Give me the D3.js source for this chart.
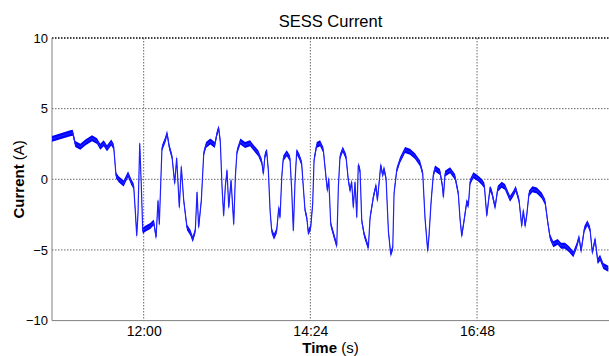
<!DOCTYPE html>
<html><head><meta charset="utf-8">
<script src="https://cdn.jsdelivr.net/npm/d3@7"></script>
<style>body{margin:0;background:#fff;} svg{display:block;font-family:"Liberation Sans",Arial,sans-serif;}</style>
</head><body>
<svg id="c" width="609" height="356"></svg>
<script>
// time in minutes since midnight, current in A
const timeMin = [
640.8,656.6,658.7,660.9,665.3,669.6,675.4,679.7,682.5,685.5,688.3,692.0,694.1,696.1,698.4,702.7,706.5,709.3,711.4,712.8,
714.0,715.1,716.6,718.0,719.2,721.4,725.7,728.7,730.7,732.4,733.5,735.8,738.7,740.2,742.1,744.5,746.8,748.5,750.8,752.5,
754.6,757.4,760.3,762.4,764.6,766.1,767.5,769.8,771.9,773.9,777.6,781.4,783.4,784.8,786.2,787.7,789.1,790.5,792.0,793.5,
795.5,797.8,799.2,800.6,803.5,
807.6,811.9,814.7,819.0,822.0,823.4,824.8,826.3,827.7,829.2,
830.6,832.6,834.9,836.7,837.8,839.3,840.6,843.6,846.4,847.9,
849.3,850.8,852.2,854.5,856.5,857.9,859.4,860.9,862.2,864.3,
866.0,867.2,869.5,872.4,875.2,877.5,878.7,879.9,881.6,884.4,
886.8,888.2,889.6,892.0,894.8,896.8,898.3,899.7,901.1,902.6,
904.1,905.4,906.9,908.4,910.4,912.7,914.1,915.6,917.0,918.4,
920.7,921.9,923.6,924.8,926.5,927.6,929.4,931.4,933.4,935.2,
936.3,938.6,941.5,945.8,950.1,954.4,958.8,961.1,
963.1,965.4,966.5,968.3,970.2,971.7,976.0,978.0,978.9,980.4,
984.7,989.0,991.8,993.3,994.8,997.0,999.1,1000.5,1002.0,1004.8,
1009.1,1012.1,1014.3,1016.4,1017.8,1019.2,1020.7,1023.6,1025.9,1029.3,
1032.2,1036.5,1039.4,1041.4,1044.3,1046.6,1048.0,1049.5,1050.9,1052.9,
1055.8,1059.6,1063.9,1066.8,1069.1,1071.1,1073.9,1077.7,1080.6,1084.0,
1087.5,1091.2,1094.1,1096.1,1097.9,1100.7,1103.3,1105.6,1107.6,1110.0,
1112.3,1114.3,1117.1,1121.4
];
const currentA = [
2.86,3.26,3.3,2.5,2.3,2.6,2.9,2.7,2.3,2.55,2.2,2.6,2.3,0.29,0,-0.3,0.36,-0.19,-0.5,-2.3,
-4.0,-2.4,2.55,-0.55,-3.64,-3.5,-3.3,-3.05,-4.1,-1.5,-3.2,2.2,2.8,3.26,2.3,1.6,-0.3,1.5,-2.0,0.9,
-1.5,-3.4,-3.76,-4.24,-3.64,-0.9,-3.4,-1.5,1.84,2.43,2.67,2.43,3.26,3.62,2.67,-0.55,-2.57,-0.55,0.64,-2.0,
-0.07,-3.2,0.16,1.95,2.67,
2.43,2.55,2.26,1.84,1.24,0.4,1.7,1.95,0.64,-2.2,
-3.64,-4.07,-3.64,-2.0,-2.7,0.16,1.48,1.84,1.48,-0.79,
-3.64,-0.07,1.95,1.6,1.12,-0.55,-2.2,-2.7,-3.76,-3.4,
-1.74,1.36,2.43,2.55,2.07,0.16,-0.79,0.05,-3.17,-4.0,
-4.7,-0.55,1.6,2.12,1.6,-0.07,-0.79,-0.19,-2.0,-0.19,
-2.7,1.0,0.64,-2.93,-3.88,-4.48,-4.84,-2.7,-2.0,-1.26,
-0.43,-1.5,-0.07,1.0,0.29,0.76,0.05,-3.64,-5.3,-4.84,
-1.0,0.64,1.36,2.07,1.95,1.64,1.12,0.4,
-2.8,-5.07,-4.0,-1.6,0.29,0.76,0.52,-0.43,-1.26,0.4,
0.64,0.16,-1.0,-2.8,-4.0,-2.8,-1.6,-1.86,-0.19,0.29,
0.05,-0.19,-0.43,-2.57,-1.6,-0.67,-0.9,-1.98,-0.67,-0.38,
-0.55,-1.38,-1.0,-0.67,-1.5,-3.3,-2.2,-3.3,-2.57,-1.0,
-0.71,-0.79,-1.14,-1.6,-3.05,-4.1,-4.6,-4.43,-4.7,-4.7,
-4.95,-5.3,-4.7,-4.1,-5.07,-3.52,-3.1,-3.52,-5.19,-4.24,
-5.8,-5.55,-6.14,-6.33
];
const xTicks = [720, 864, 1008];          // 12:00, 14:24, 16:48
const yTicks = [-10, -5, 0, 5, 10];
const xDomain = [640.8, 1122.0];
const yDomain = [-10, 10];
const titleText = "SESS Current";

const data = timeMin.map((t, i) => ({t, v: currentA[i]}));
const svg = d3.select("#c");
const L = 52, R = 609, T = 38, B = 320.6;
const x = d3.scaleLinear().domain(xDomain).range([L, R]);
const y = d3.scaleLinear().domain(yDomain).range([B, T]);
const fmt = m => { const h = Math.floor(m / 60), mm = Math.round(m - h * 60); return h + ":" + String(mm).padStart(2, "0"); };

// grid
const g = svg.append("g");
g.selectAll("line.gy").data(yTicks.filter(d => d > -10)).join("line")
  .attr("x1", L).attr("x2", R).attr("y1", d => y(d)).attr("y2", d => y(d))
  .attr("stroke", d => d === 10 ? "#000" : "#444").attr("stroke-width", d => d === 10 ? 1.3 : 0.8)
  .attr("stroke-dasharray", "1.5,1.5");
g.selectAll("line.gx").data(xTicks).join("line")
  .attr("x1", d => x(d)).attr("x2", d => x(d)).attr("y1", T).attr("y2", B)
  .attr("stroke", "#444").attr("stroke-width", 0.8).attr("stroke-dasharray", "1.5,1.5");

// axis lines
svg.append("line").attr("x1", L).attr("x2", L).attr("y1", T).attr("y2", B).attr("stroke", "#808080").attr("stroke-width", 1);
svg.append("line").attr("x1", L).attr("x2", R).attr("y1", B).attr("y2", B).attr("stroke", "#808080").attr("stroke-width", 1);

// axes via d3 (labels only)
const yAxis = svg.append("g").attr("transform", `translate(${L},0)`)
  .call(d3.axisLeft(y).tickValues(yTicks).tickSize(0).tickPadding(4));
yAxis.select(".domain").remove();
yAxis.selectAll("text").attr("font-size", 13).attr("fill", "#000").attr("font-family", "Liberation Sans, Arial, sans-serif");
const xAxis = svg.append("g").attr("transform", `translate(0,${B})`)
  .call(d3.axisBottom(x).tickValues(xTicks).tickFormat(fmt).tickSize(0).tickPadding(5));
xAxis.select(".domain").remove();
xAxis.selectAll("text").attr("font-size", 14).attr("fill", "#000").attr("font-family", "Liberation Sans, Arial, sans-serif");

// clip
svg.append("clipPath").attr("id", "clip").append("rect").attr("x", L).attr("y", T).attr("width", R - L).attr("height", B - T);
const plot = svg.append("g").attr("clip-path", "url(#clip)");
const ripple = 0.21;
plot.append("path").datum(data)
  .attr("d", d3.area().x(d => x(d.t)).y0(d => y(d.v - ripple)).y1(d => y(d.v + ripple)))
  .attr("fill", "#0000ff");
plot.append("path").datum(data)
  .attr("d", d3.line().x(d => x(d.t)).y(d => y(d.v)))
  .attr("fill", "none").attr("stroke", "#2020ff").attr("stroke-width", 1.2);

// title & labels
svg.append("text").attr("x", (L + R) / 2).attr("y", 27).attr("text-anchor", "middle")
  .attr("font-size", 16.5).attr("fill", "#000").text(titleText);
const xl = svg.append("text").attr("x", (L + R) / 2).attr("y", 353).attr("text-anchor", "middle").attr("font-size", 15).attr("fill", "#000");
xl.append("tspan").attr("font-weight", "bold").text("Time");
xl.append("tspan").text(" (s)");
const yl = svg.append("text").attr("transform", `translate(24,${(T + B) / 2}) rotate(-90)`).attr("text-anchor", "middle").attr("font-size", 15).attr("fill", "#000");
yl.append("tspan").attr("font-weight", "bold").text("Current");
yl.append("tspan").text(" (A)");
</script>
</body></html>
